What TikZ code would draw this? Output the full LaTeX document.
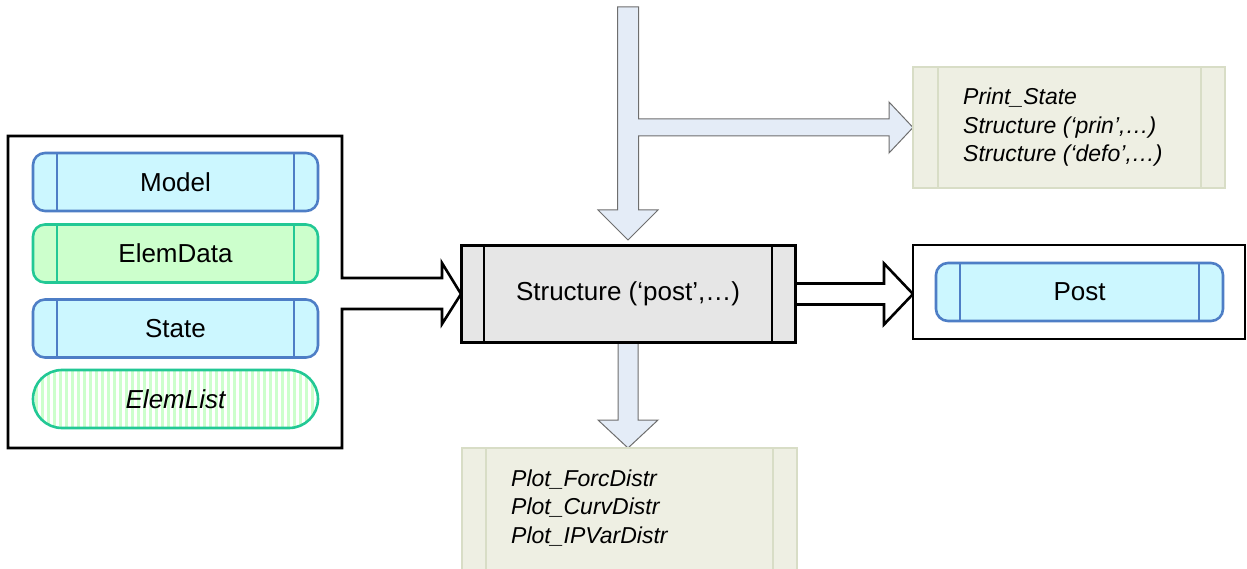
\documentclass[tikz,border=0pt]{standalone}
\usepackage{fontspec}
\setmainfont{Liberation Sans}
\usetikzlibrary{calc}
\pgfdeclarelayer{background}
\pgfsetlayers{background,main}

\definecolor{pillcyan}{HTML}{CCF7FF}
\definecolor{pillblue}{HTML}{4E7EC6}
\definecolor{pillmint}{HTML}{CCFFCC}
\definecolor{pillgreen}{HTML}{22C895}
\definecolor{stripegreen}{HTML}{CCFFCC}
\definecolor{flowfill}{HTML}{E4ECF7}
\definecolor{flowedge}{HTML}{6E6E6E}
\definecolor{notefill}{HTML}{EEEFE3}
\definecolor{noteedge}{HTML}{D8DDC6}
\definecolor{procfill}{HTML}{E6E6E6}

\begin{document}
\begin{tikzpicture}[x=1pt, y=-1pt,
  pill/.style={draw, line width=2.6pt, rounded corners=12pt,
    minimum width=285pt, minimum height=58pt, inner sep=0pt, outer sep=0pt,
    font=\fontsize{26}{30}\selectfont},
  bluepill/.style={pill, draw=pillblue, fill=pillcyan},
  greenpill/.style={pill, draw=pillgreen, fill=pillmint},
  frame/.style={draw, line width=2.6pt, fill=white, inner sep=0pt, outer sep=0pt},
  note/.style={draw=noteedge, fill=notefill, line width=2pt, inner sep=0pt, outer sep=0pt},
  notebar/.style={noteedge, line width=2pt},
  notetext/.style={align=left, inner sep=0pt, font=\fontsize{23}{28.5}\selectfont\itshape},
  heavy/.style={draw=black, fill=white, line width=2.6pt, line join=miter},
  flow/.style={draw=flowedge, fill=flowfill, line width=1pt, line join=miter}]

\useasboundingbox (0,0) rectangle (1247,569);
\clip (0,0) rectangle (1247,569);

% ---- input group ----
\node[minimum width=334pt, minimum height=312pt, inner sep=0pt, outer sep=0pt] (inputs) at (175,292) {};
\node[bluepill]  (model)    at (175.5,182)   {Model};
\node[greenpill] (elemdata) at (175.5,253.5) {ElemData};
\node[bluepill]  (state)    at (175.5,328.5) {State};
\node[pill, draw=pillgreen, fill=white, rounded corners=29pt,
      font=\fontsize{26}{30}\selectfont\itshape,
      path picture={
        \foreach \i in {2,8,...,296}{
          \fill[stripegreen, sharp corners]
            ([xshift=\i]path picture bounding box.north west)
            rectangle ([xshift=\i+3]path picture bounding box.south west);
        }
      }] (elemlist) at (175.5,399) {ElemList};

% ---- processing step ----
\node[draw, line width=3pt, fill=procfill, minimum width=334pt, minimum height=96pt,
      inner sep=0pt, outer sep=0pt, font=\fontsize{26}{30}\selectfont]
      (struct) at (628,294) {Structure (‘post’,…)};
\draw[line width=2pt] ([xshift=23pt]struct.north west) -- ([xshift=23pt]struct.south west)
                      ([xshift=-23pt]struct.north east) -- ([xshift=-23pt]struct.south east);

% ---- output ----
\node[frame, minimum width=332pt, minimum height=94pt] (postframe) at (1079,292) {};
\node[bluepill, minimum width=287pt] (post) at (1079.5,292) {Post};

\foreach \n/\c in {model/pillblue, elemdata/pillgreen, state/pillblue, post/pillblue}{
  \draw[\c, line width=2.6pt]
    ([xshift=24pt]\n.north west) -- ([xshift=24pt]\n.south west)
    ([xshift=-24pt]\n.north east) -- ([xshift=-24pt]\n.south east);
}

% ---- notes ----
\node[note, minimum width=312pt, minimum height=121pt] (printnote) at (1069,127.5) {};
\draw[notebar] ([xshift=25pt]printnote.north west) -- ([xshift=25pt]printnote.south west)
               ([xshift=-24pt]printnote.north east) -- ([xshift=-24pt]printnote.south east);
\node[notetext, anchor=west] (printtext) at (963,127.5)
  {Print\_State\\Structure (‘prin’,…)\\Structure (‘defo’,…)};

\node[note, minimum width=335pt, minimum height=150pt] (plotnote) at (629.5,523) {};
\draw[notebar] ([xshift=24pt]plotnote.north west) -- ([xshift=24pt]plotnote.south west)
               ([xshift=-24pt]plotnote.north east) -- ([xshift=-24pt]plotnote.south east);
\node[notetext, anchor=west] (plottext) at (511,508)
  {Plot\_ForcDistr\\Plot\_CurvDistr\\Plot\_IPVarDistr};

% ---- block arrows ----
\coordinate (lt) at ($(struct.west)+(-19,-16)$);
\coordinate (lb) at ($(struct.west)+(-19,15)$);
\coordinate (rtip) at (struct.east -| postframe.west);
\coordinate (dtip) at ($(struct.north)+(0,-6)$);
\coordinate (tsrc) at ($(struct.north)+(0,-239)$);
\coordinate (ptip) at (printnote.west);
\coordinate (tj) at (tsrc |- ptip);
\coordinate (btip) at (struct.south |- plotnote.north);

\begin{pgfonlayer}{background}
  % input frame merged with the arrow into the step
  \draw[heavy] (lt) -- (lt -| inputs.east) -- (inputs.north east) -- (inputs.north west)
    -- (inputs.south west) -- (inputs.south east) -- (lb -| inputs.east) -- (lb)
    -- ($(lb)+(0,15)$) -- (struct.west) -- ($(lt)+(0,-15)$) -- cycle;
  % step to output
  \draw[heavy] ($(struct.east)+(0,-10.5)$) -- ($(rtip)+(-29,-10.5)$) -- ($(rtip)+(-29,-30.5)$)
    -- (rtip) -- ($(rtip)+(-29,30.5)$) -- ($(rtip)+(-29,10.5)$) -- ($(struct.east)+(0,10.5)$);
  % incoming call with branch to printing
  \draw[flow] ($(tsrc)+(-10.5,0)$) -- ($(tsrc)+(10.5,0)$) -- ($(tj)+(10.5,-8.5)$)
    -- ($(ptip)+(-24,-8.5)$) -- ($(ptip)+(-24,-25.5)$) -- (ptip) -- ($(ptip)+(-24,25.5)$)
    -- ($(ptip)+(-24,8.5)$) -- ($(tj)+(10.5,8.5)$) -- ($(dtip)+(10.5,-30)$)
    -- ($(dtip)+(30,-30)$) -- (dtip) -- ($(dtip)+(-30,-30)$) -- ($(dtip)+(-10.5,-30)$) -- cycle;
  % step to plotting
  \draw[flow] ($(struct.south)+(-10,0)$) -- ($(btip)+(-10,-28)$) -- ($(btip)+(-30,-28)$)
    -- (btip) -- ($(btip)+(30,-28)$) -- ($(btip)+(10,-28)$) -- ($(struct.south)+(10,0)$);
\end{pgfonlayer}

\end{tikzpicture}
\end{document}
